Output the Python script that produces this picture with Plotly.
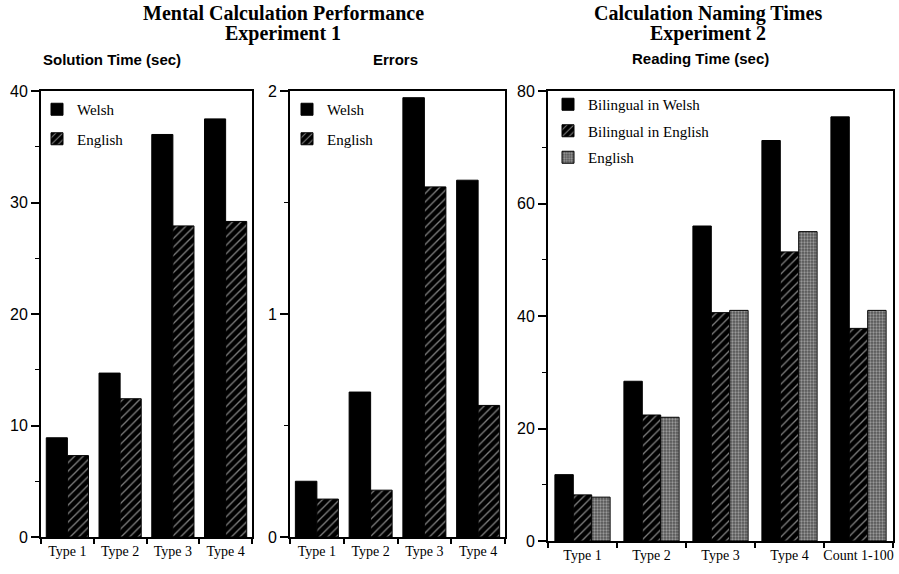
import plotly.graph_objects as go

W, H = 899, 574

# ---- data ----
types4 = ["Type 1", "Type 2", "Type 3", "Type 4"]
solution_welsh = [8.9, 14.7, 36.1, 37.5]
solution_english = [7.3, 12.4, 27.9, 28.3]
errors_welsh = [0.25, 0.65, 1.97, 1.60]
errors_english = [0.17, 0.21, 1.57, 0.59]

types5 = ["Type 1", "Type 2", "Type 3", "Type 4", "Count 1-100"]
reading_bil_welsh = [11.8, 28.4, 56.0, 71.2, 75.4]
reading_bil_english = [8.2, 22.4, 40.6, 51.4, 37.8]
reading_english = [7.8, 22.0, 41.0, 55.0, 41.0]

serif = "Liberation Serif, Times New Roman, serif"
sans = "Liberation Sans, Arial, sans-serif"

solid = dict(color="black", line=dict(color="black", width=1))
hatch = dict(color="black", line=dict(color="black", width=1),
             pattern=dict(shape="/", fgcolor="white", bgcolor="black", size=6, solidity=0.22))
stipple = dict(color="#777777", line=dict(color="black", width=1),
               pattern=dict(shape=".", fgcolor="#dddddd", bgcolor="#555555", size=3, solidity=0.45))

fig = go.Figure()
fig.add_trace(go.Bar(x=types4, y=solution_welsh, name="Welsh", marker=solid,
                     xaxis="x", yaxis="y", legend="legend", legendgroup="a"))
fig.add_trace(go.Bar(x=types4, y=solution_english, name="English", marker=hatch,
                     xaxis="x", yaxis="y", legend="legend", legendgroup="b"))
fig.add_trace(go.Bar(x=types4, y=errors_welsh, name="Welsh", marker=solid,
                     xaxis="x2", yaxis="y2", legend="legend2", legendgroup="c"))
fig.add_trace(go.Bar(x=types4, y=errors_english, name="English", marker=hatch,
                     xaxis="x2", yaxis="y2", legend="legend2", legendgroup="d"))
fig.add_trace(go.Bar(x=types5, y=reading_bil_welsh, name="Bilingual in Welsh", marker=solid,
                     xaxis="x3", yaxis="y3", legend="legend3", legendgroup="e"))
fig.add_trace(go.Bar(x=types5, y=reading_bil_english, name="Bilingual in English", marker=hatch,
                     xaxis="x3", yaxis="y3", legend="legend3", legendgroup="f"))
fig.add_trace(go.Bar(x=types5, y=reading_english, name="English", marker=stipple,
                     xaxis="x3", yaxis="y3", legend="legend3", legendgroup="g"))


def px(x):
    return x / W


def py(y):
    return 1 - y / H


def xax(dom, anchor):
    return dict(domain=[px(dom[0]), px(dom[1])], anchor=anchor, showline=True, linecolor="black",
                linewidth=2, mirror=True, ticks="outside", ticklen=5, tickwidth=1.5,
                tickcolor="black", tickson="boundaries", showgrid=False, tickangle=0,
                automargin=False,
                tickfont=dict(family=serif, size=14, color="black"), fixedrange=True)


def yax(anchor, rng, dt, bottom):
    return dict(domain=[py(bottom), py(91)], anchor=anchor, range=rng, dtick=dt, showline=True,
                linecolor="black", automargin=False,
                linewidth=2, mirror=True, ticks="outside", ticklen=8, tickwidth=1.5,
                tickcolor="black", showgrid=False, zeroline=False,
                minor=dict(dtick=dt / 2, ticks="outside", ticklen=4, tickwidth=1.2, tickcolor="black"),
                tickfont=dict(family=sans, size=16, color="black"), fixedrange=True)


leg_common = dict(font=dict(family=serif, size=15, color="black"), bgcolor="rgba(0,0,0,0)",
                  xanchor="left", yanchor="top", itemwidth=30)

fig.update_layout(
    width=W, height=H,
    margin=dict(l=0, r=0, t=0, b=0, autoexpand=False),
    paper_bgcolor="white", plot_bgcolor="white",
    barmode="group", bargap=0.2, bargroupgap=0,
    xaxis=xax([41, 252], "y"),
    yaxis=yax("x", [0, 40], 10, 537),
    xaxis2=xax([290, 505], "y2"),
    yaxis2=yax("x2", [0, 2], 1, 537),
    xaxis3=xax([548, 893], "y3"),
    yaxis3=yax("x3", [0, 80], 20, 541),
    legend=dict(x=px(37), y=py(93), tracegroupgap=7, **leg_common),
    legend2=dict(x=px(287), y=py(93), tracegroupgap=7, **leg_common),
    legend3=dict(x=px(548), y=py(88), tracegroupgap=4, **leg_common),
    showlegend=True,
)

titles = [
    ("<b>Mental Calculation Performance</b>", 283, 13, serif, 20),
    ("<b>Experiment 1</b>", 283, 34, serif, 20),
    ("<b>Calculation Naming Times</b>", 708, 13, serif, 20),
    ("<b>Experiment 2</b>", 708, 34, serif, 20),
    ("<b>Solution Time (sec)</b>", 112, 59, sans, 15),
    ("<b>Errors</b>", 395, 59, sans, 15),
    ("<b>Reading Time (sec)</b>", 700, 58, sans, 15),
]
for t, x, y, f, s in titles:
    fig.add_annotation(text=t, x=px(x), y=py(y), xref="paper", yref="paper",
                       showarrow=False, xanchor="center", yanchor="middle",
                       font=dict(family=f, size=s, color="black"))

fig.write_html("out.html", config={"displayModeBar": False},
               post_script="document.body.style.margin='0';")
